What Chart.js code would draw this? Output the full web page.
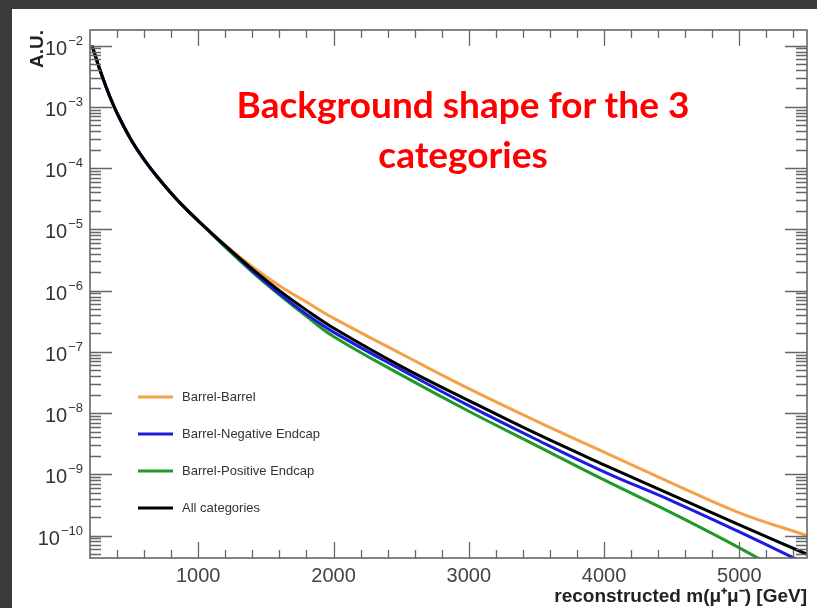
<!DOCTYPE html>
<html>
<head>
<meta charset="utf-8">
<script src="https://cdn.jsdelivr.net/npm/chart.js@4.4.0/dist/chart.umd.min.js"></script>
<style>
  body { margin: 0; background: #3b3b3b; width: 817px; height: 608px; overflow: hidden; }
  #frame { position: absolute; left: 12px; top: 9px; width: 805px; height: 599px; background: #fff; }
  #myChart { position: absolute; left: 0; top: 0; }
  #headline {
    position: absolute; left: 213px; top: 79px; width: 500px;
    text-align: center; color: #ff0000;
    font: bold 37px Lato, "Noto Sans", sans-serif; line-height: 50px;
  }
</style>
</head>
<body>
<div id="frame">
  <canvas id="myChart" width="805" height="599"></canvas>
</div>
<div id="headline">Background shape for the 3<br>categories</div>
<script>
// reconstructed mass (GeV)
let massGeV = [215, 250, 300, 350, 400, 500, 600, 700, 800, 900, 1000, 1200, 1400, 1600, 1800, 2000, 2500, 3000, 3500, 4000, 4500, 5000, 5500];

let barrelBarrel = [1.0e-2, 5.75e-3, 2.75e-3, 1.41e-3, 7.9e-4, 3.0e-4, 1.38e-4, 7.1e-5, 3.9e-5, 2.26e-5, 1.38e-5, 5.5e-6, 2.45e-6, 1.2e-6, 6.5e-7, 3.55e-7, 9.3e-8, 2.5e-8, 7.4e-9, 2.3e-9, 7.2e-10, 2.35e-10, 1.0e-10];
let barrelNegEndcap = [1.0e-2, 5.75e-3, 2.75e-3, 1.41e-3, 7.9e-4, 3.0e-4, 1.38e-4, 7.1e-5, 3.9e-5, 2.26e-5, 1.38e-5, 5.4e-6, 2.1e-6, 8.9e-7, 4.1e-7, 2.1e-7, 5.1e-8, 1.32e-8, 3.7e-9, 1.1e-9, 3.7e-10, 1.15e-10, 3.4e-11];
let barrelPosEndcap = [1.0e-2, 5.75e-3, 2.75e-3, 1.41e-3, 7.9e-4, 3.0e-4, 1.38e-4, 7.1e-5, 3.9e-5, 2.26e-5, 1.38e-5, 5.1e-6, 2.0e-6, 8.5e-7, 3.8e-7, 1.78e-7, 4.2e-8, 1.07e-8, 2.95e-9, 8.1e-10, 2.35e-10, 6.3e-11, 1.5e-11];
let allCategories = [1.0e-2, 5.75e-3, 2.75e-3, 1.41e-3, 7.9e-4, 3.0e-4, 1.38e-4, 7.1e-5, 3.9e-5, 2.26e-5, 1.38e-5, 5.4e-6, 2.24e-6, 1.0e-6, 4.8e-7, 2.45e-7, 5.8e-8, 1.6e-8, 4.6e-9, 1.43e-9, 4.6e-10, 1.5e-10, 4.95e-11];

// y axis decades shown as 10^n
let yDecades = [-2, -3, -4, -5, -6, -7, -8, -9, -10];

function points(ys) {
  return massGeV.map((m, i) => ({ x: m, y: ys[i] }));
}

let myChart = document.getElementById("myChart").getContext("2d");

// ROOT style frame: inward ticks on all four sides, 10^n labels, legend in the pad
let rootFrame = {
  id: "rootFrame",
  afterDraw(chart) {
    let ctx = chart.ctx;
    let a = chart.chartArea;
    let xs = chart.scales.x;
    let ys = chart.scales.y;
    ctx.save();
    ctx.strokeStyle = "#666";
    ctx.lineWidth = 1.3;
    ctx.beginPath();
    // x ticks every 200, major every 1000
    for (let v = 400; v < xs.max; v += 200) {
      let px = Math.round(xs.getPixelForValue(v)) + 0.5;
      let len = v % 1000 === 0 ? 16 : 8;
      ctx.moveTo(px, a.bottom); ctx.lineTo(px, a.bottom - len);
      ctx.moveTo(px, a.top); ctx.lineTo(px, a.top + len);
    }
    // y ticks: decades and 2..9
    for (let d = -11; d <= -1; d++) {
      for (let k = 1; k <= 9; k++) {
        let v = k * Math.pow(10, d);
        if (v < ys.min || v > ys.max) continue;
        let py = Math.round(ys.getPixelForValue(v)) + 0.5;
        let len = k === 1 ? 22 : 11;
        ctx.moveTo(a.left, py); ctx.lineTo(a.left + len, py);
        ctx.moveTo(a.right, py); ctx.lineTo(a.right - len, py);
      }
    }
    ctx.stroke();
    ctx.lineWidth = 1.6;
    ctx.strokeRect(a.left, a.top, a.right - a.left, a.bottom - a.top);

    // y labels
    ctx.fillStyle = "#333";
    ctx.textAlign = "right";
    ctx.textBaseline = "alphabetic";
    yDecades.forEach((n) => {
      let py = ys.getPixelForValue(Math.pow(10, n));
      let ex = "\u2212" + Math.abs(n);
      ctx.font = "13px 'Liberation Sans', Arial, sans-serif";
      let w = ctx.measureText(ex).width;
      ctx.fillText(ex, a.left - 7, py - 1);
      ctx.font = "20px 'Liberation Sans', Arial, sans-serif";
      ctx.fillText("10", a.left - 8 - w, py + 9);
    });

    // legend
    ctx.textAlign = "left";
    ctx.textBaseline = "middle";
    ctx.font = "13px 'Liberation Sans', Arial, sans-serif";
    chart.data.datasets.forEach((ds, i) => {
      let ly = 388 + i * 37;
      ctx.strokeStyle = ds.borderColor;
      ctx.lineWidth = 3;
      ctx.beginPath();
      ctx.moveTo(126, ly); ctx.lineTo(161, ly);
      ctx.stroke();
      ctx.fillStyle = "#333";
      ctx.fillText(ds.label, 170, ly);
    });
    ctx.restore();
  },
};

let massChart = new Chart(myChart, {
  type: "line",
  data: {
    datasets: [
      { label: "Barrel-Barrel", data: points(barrelBarrel), borderColor: "#f5a04a", order: 3 },
      { label: "Barrel-Negative Endcap", data: points(barrelNegEndcap), borderColor: "#1c1ce0", order: 1 },
      { label: "Barrel-Positive Endcap", data: points(barrelPosEndcap), borderColor: "#1f9a2a", order: 2 },
      { label: "All categories", data: points(allCategories), borderColor: "#000000", order: 0 },
    ],
  },
  options: {
    responsive: false,
    animation: false,
    devicePixelRatio: 1,
    layout: { padding: { left: 0, top: 21, right: 10, bottom: 0 } },
    elements: {
      point: { radius: 0 },
      line: { borderWidth: 3, tension: 0.4, fill: false },
    },
    plugins: { legend: { display: false }, tooltip: { enabled: false } },
    scales: {
      x: {
        type: "linear",
        min: 200,
        max: 5500,
        grid: { display: false, drawTicks: false },
        border: { display: false },
        ticks: {
          stepSize: 200,
          autoSkip: false,
          maxRotation: 0,
          padding: 6,
          color: "#444",
          font: { family: "'Liberation Sans', Arial, sans-serif", size: 20 },
          callback: (v) => (v % 1000 === 0 ? String(v) : ""),
        },
        title: {
          display: true,
          text: "reconstructed m(\u03bc\u207a\u03bc\u207b) [GeV]",
          align: "end",
          color: "#222",
          padding: 0,
          font: { family: "'Liberation Sans', Arial, sans-serif", size: 19, weight: "bold" },
        },
        afterFit: (s) => { s.height = 50; },
      },
      y: {
        type: "logarithmic",
        min: 4.3e-11,
        max: 1.8e-2,
        grid: { display: false },
        border: { display: false },
        ticks: { display: false },
        title: {
          display: true,
          text: "A.U.",
          align: "end",
          color: "#222",
          padding: { top: 14, bottom: 0 },
          font: { family: "'Liberation Sans', Arial, sans-serif", size: 19, weight: "bold" },
        },
        afterFit: (s) => { s.width = 78; },
      },
    },
  },
  plugins: [rootFrame],
});
</script>
</body>
</html>
